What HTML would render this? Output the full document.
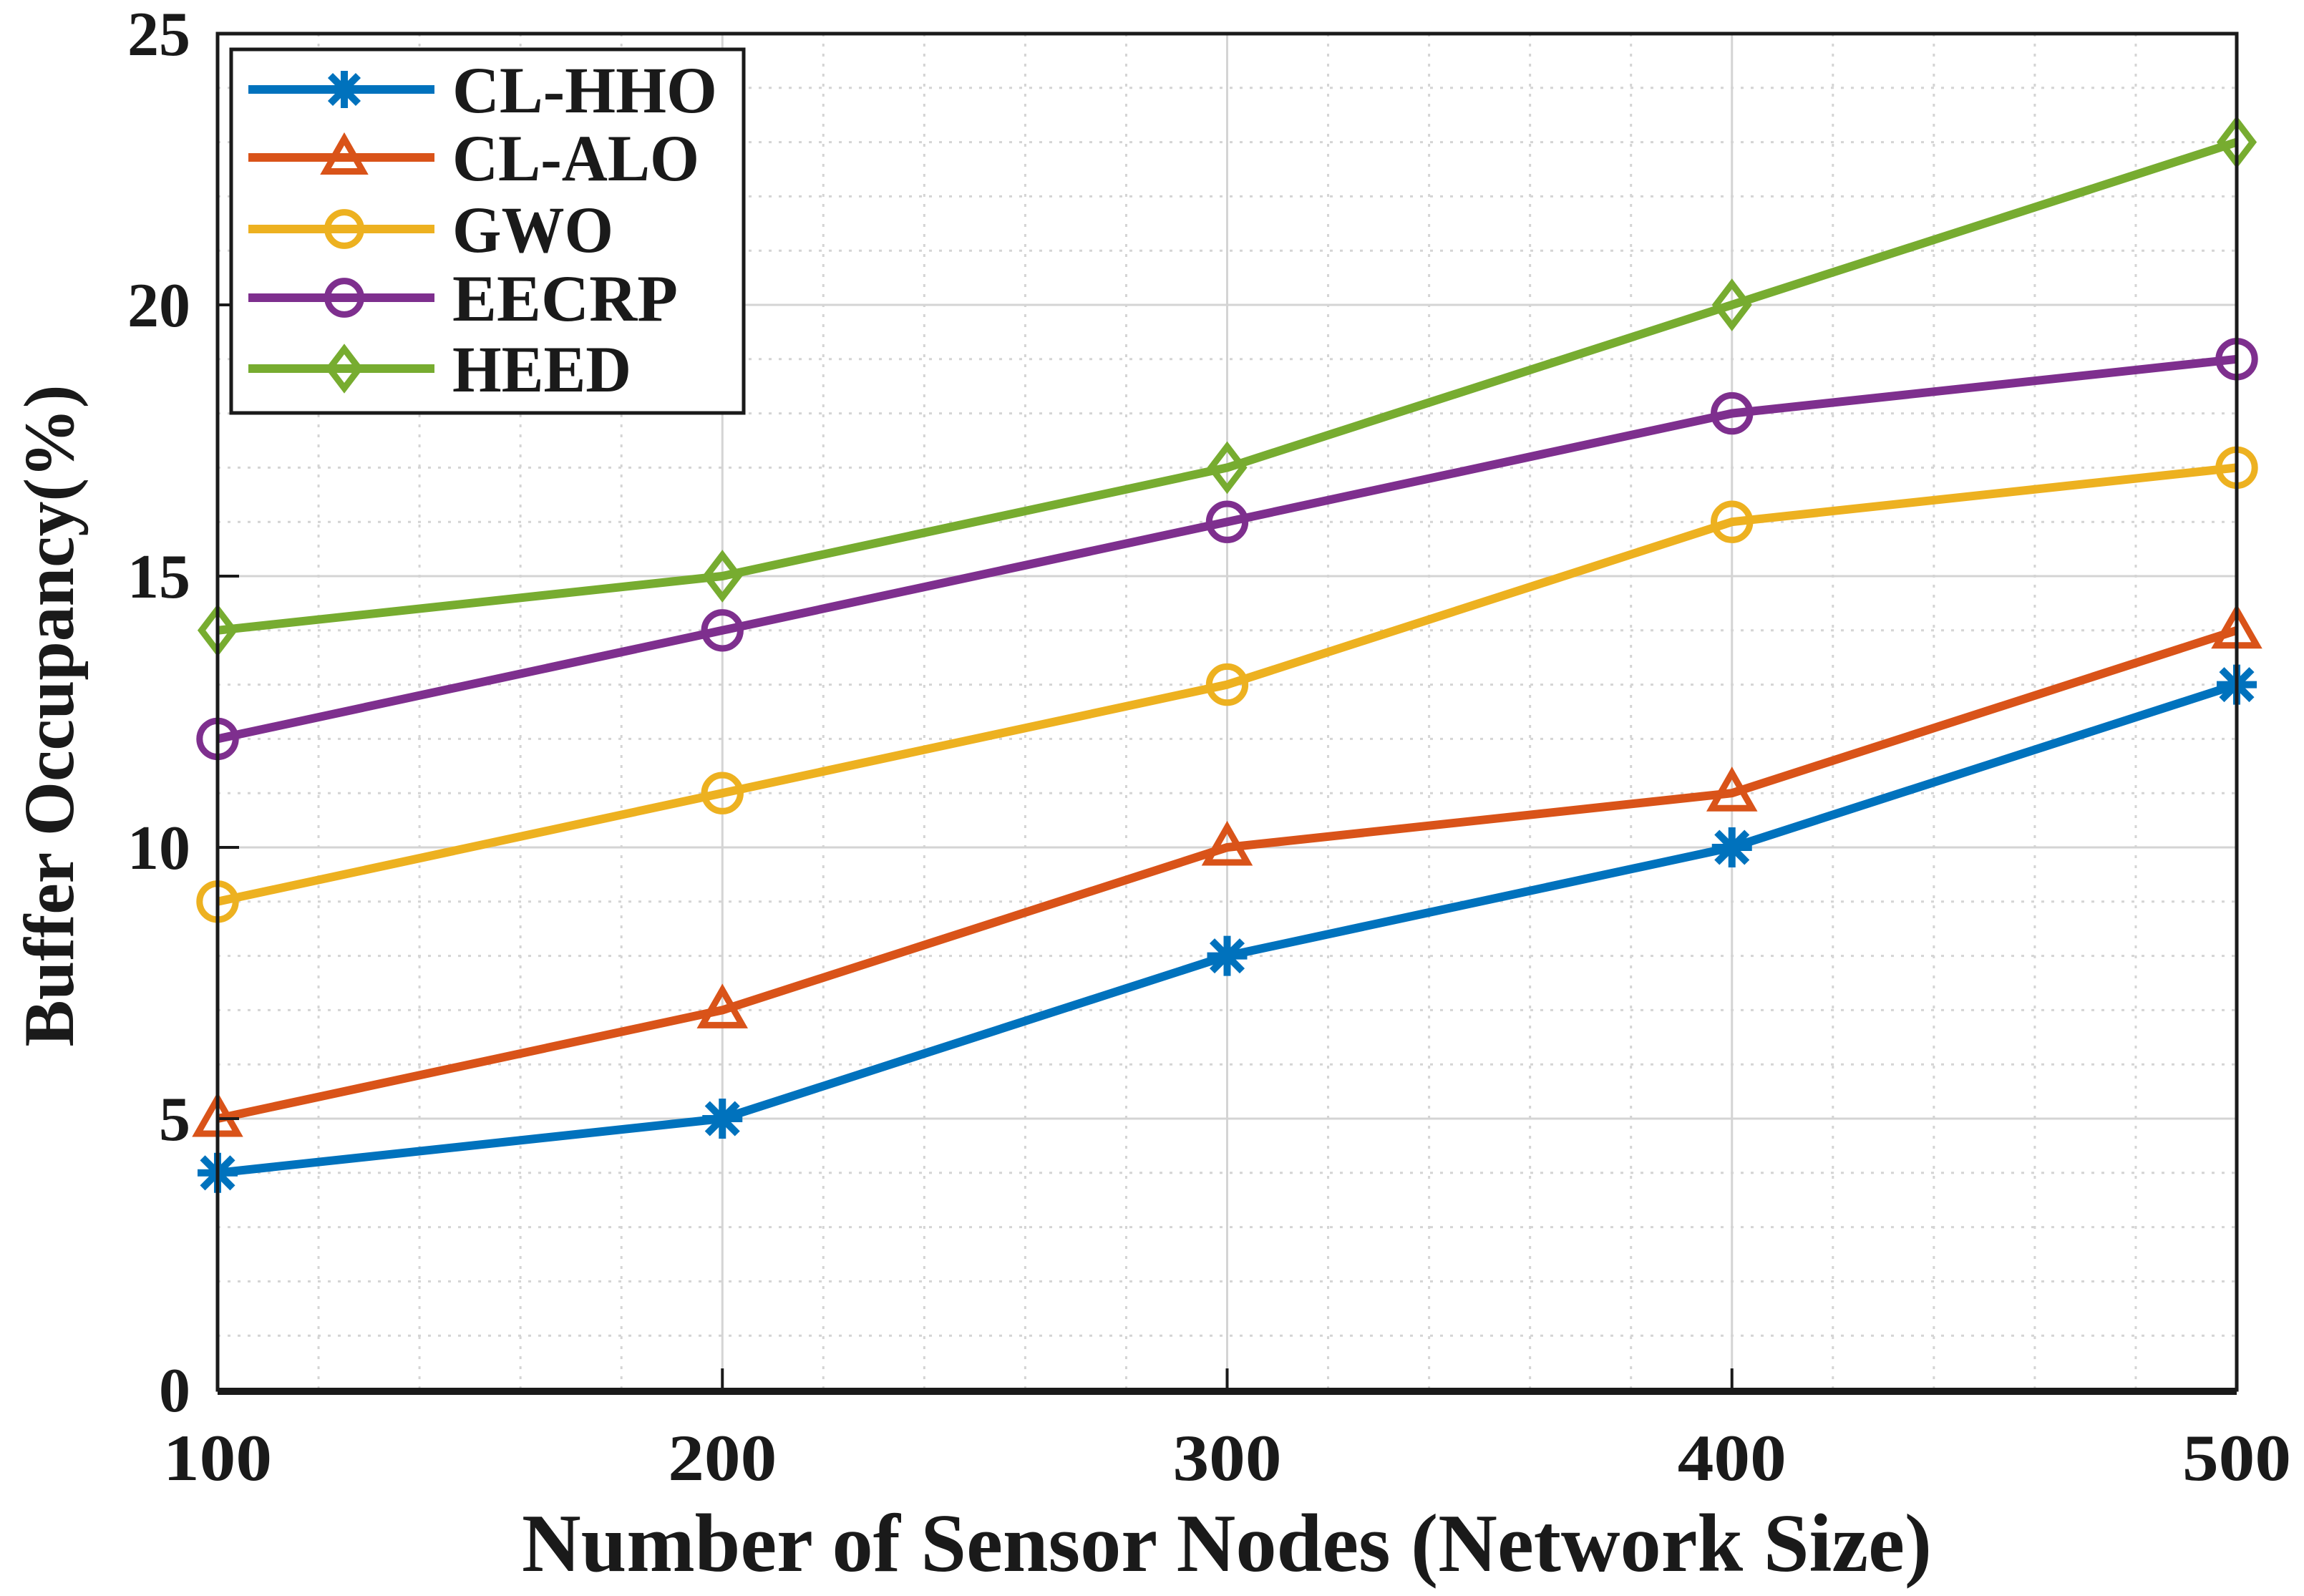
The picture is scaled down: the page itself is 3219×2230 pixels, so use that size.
<!DOCTYPE html>
<html><head><meta charset="utf-8"><style>
html,body{margin:0;padding:0;background:#fff;}
svg{display:block;font-family:"Liberation Serif",serif;font-weight:bold;}
</style></head><body>
<svg id="chart" width="3219" height="2230" viewBox="0 0 3219 2230" xmlns="http://www.w3.org/2000/svg">
<g id="grid"></g>
<g id="series"></g>
<g id="axes"></g>
<g id="legend"></g>
</svg>
<script>
const categories = [100, 200, 300, 400, 500];
const seriesNames = ["CL-HHO", "CL-ALO", "GWO", "EECRP", "HEED"];
const clHho = [4, 5, 8, 10, 13];
const clAlo = [5, 7, 10, 11, 14];
const gwo = [9, 11, 13, 16, 17];
const eecrp = [12, 14, 16, 18, 19];
const heed = [14, 15, 17, 20, 23];
const xTicks = [100, 200, 300, 400, 500];
const yTicks = [0, 5, 10, 15, 20, 25];

const NS = "http://www.w3.org/2000/svg";
const L = 304, R = 3125, T = 47, B = 1942;
function xs(v){ return L + (v - 100) / 400 * (R - L); }
function ys(v){ return B - v / 25 * (B - T); }
function mk(tag, attrs, parent){ const e = document.createElementNS(NS, tag); for (const k in attrs) e.setAttribute(k, attrs[k]); parent.appendChild(e); return e; }

const grid = document.getElementById('grid');
for (let v = 100; v <= 500; v += 20) {
  const major = (v - 100) % 100 === 0;
  const ln = mk('line', {x1: xs(v), x2: xs(v), y1: T, y2: B, stroke: '#d4d4d4', 'stroke-width': 3, 'stroke-dasharray': major ? '' : '4 10'}, grid);
  
  
}
for (let v = 0; v <= 25; v += 1) {
  const major = v % 5 === 0;
  const ln = mk('line', {x1: L, x2: R, y1: ys(v), y2: ys(v), stroke: '#d4d4d4', 'stroke-width': 3, 'stroke-dasharray': major ? '' : '4 10'}, grid);
  
  
}

const colors = ["#0072BD", "#D95319", "#EDB120", "#7E2F8E", "#77AC30"];
const markers = ["star", "triangle", "circle", "circle", "diamond"];
const data = [clHho, clAlo, gwo, eecrp, heed];

function marker(type, cx, cy, color, parent, size){
  const s = size || 28;
  let e;
  if (type === 'circle') e = mk('circle', {cx, cy, r: s * 0.9, fill: 'none', stroke: color, 'stroke-width': 9}, parent);
  else if (type === 'triangle') e = mk('polygon', {points: `${cx},${cy - s} ${cx + s},${cy + s * 0.75} ${cx - s},${cy + s * 0.75}`, fill: 'none', stroke: color, 'stroke-width': 9}, parent);
  else if (type === 'diamond') e = mk('polygon', {points: `${cx},${cy - s * 1.05} ${cx + s * 0.8},${cy} ${cx},${cy + s * 1.05} ${cx - s * 0.8},${cy}`, fill: 'none', stroke: color, 'stroke-width': 9}, parent);
  else {
    e = mk('g', {}, parent);
    mk('line', {x1: cx - s, x2: cx + s, y1: cy, y2: cy, stroke: color, 'stroke-width': 10}, e);
    mk('line', {x1: cx, x2: cx, y1: cy - s, y2: cy + s, stroke: color, 'stroke-width': 10}, e);
    mk('line', {x1: cx - s * 0.75, x2: cx + s * 0.75, y1: cy - s * 0.75, y2: cy + s * 0.75, stroke: color, 'stroke-width': 10}, e);
    mk('line', {x1: cx - s * 0.75, x2: cx + s * 0.75, y1: cy + s * 0.75, y2: cy - s * 0.75, stroke: color, 'stroke-width': 10}, e);
  }
  return e;
}

const sg = document.getElementById('series');
data.forEach((vals, i) => {
  const g = mk('g', {}, sg);
  
  
  const pts = vals.map((v, j) => xs(categories[j]) + ',' + ys(v)).join(' ');
  const pl = mk('polyline', {points: pts, fill: 'none', stroke: colors[i], 'stroke-width': 12, 'stroke-linejoin': 'round'}, g);
  
  
  vals.forEach((v, j) => {
    const m = marker(markers[i], xs(categories[j]), ys(v), colors[i], g);
    
    
  });
});

const ax = document.getElementById('axes');
const box = mk('rect', {x: L, y: T, width: R - L, height: B - T, fill: 'none', stroke: '#1a1a1a', 'stroke-width': 5}, ax);


const bx = mk('line', {x1: L, x2: R, y1: B + 2, y2: B + 2, stroke: '#1a1a1a', 'stroke-width': 10}, ax);


xTicks.forEach(v => {
  const t = mk('line', {x1: xs(v), x2: xs(v), y1: B, y2: B - 30, stroke: '#1a1a1a', 'stroke-width': 4}, ax);
  
  
  const tx = mk('text', {x: xs(v), y: 2068, 'text-anchor': 'middle', 'font-size': 92, fill: '#1a1a1a', textLength: 152, lengthAdjust: 'spacingAndGlyphs'}, ax);
  tx.textContent = v;
  
  
});
yTicks.forEach(v => {
  const t = mk('line', {x1: L, x2: L + 30, y1: ys(v), y2: ys(v), stroke: '#1a1a1a', 'stroke-width': 4}, ax);
  
  
  const tx = mk('text', {x: 266, y: ys(v) + 30, 'text-anchor': 'end', 'font-size': 88, fill: '#1a1a1a'}, ax);
  tx.textContent = v;
  
  
});
const xt = mk('text', {x: 1714, y: 2195, 'text-anchor': 'middle', 'font-size': 116, fill: '#1a1a1a', textLength: 1970, lengthAdjust: 'spacingAndGlyphs'}, ax);
xt.textContent = 'Number of Sensor Nodes (Network Size)';


const yt = mk('text', {x: 0, y: 0, 'text-anchor': 'middle', 'font-size': 100, fill: '#1a1a1a', textLength: 925, lengthAdjust: 'spacingAndGlyphs', transform: 'translate(102,1000) rotate(-90)'}, ax);
yt.textContent = 'Buffer Occupancy(%)';



const lg = document.getElementById('legend');
const lb = mk('rect', {x: 323, y: 69, width: 716, height: 508, fill: '#fff', stroke: '#1a1a1a', 'stroke-width': 5}, lg);


const rowsY = [125, 220, 320, 416, 515];
const labelW = [370, 345, 225, 315, 250];
seriesNames.forEach((n, i) => {
  const g = mk('g', {}, lg);
  
  
  mk('line', {x1: 347, x2: 607, y1: rowsY[i], y2: rowsY[i], stroke: colors[i], 'stroke-width': 12}, g);
  marker(markers[i], 481, rowsY[i], colors[i], g, 26);
  const tx = mk('text', {x: 632, y: rowsY[i] + 32, 'font-size': 92, fill: '#1a1a1a', textLength: labelW[i], lengthAdjust: 'spacingAndGlyphs'}, g);
  tx.textContent = n;
  
  
});
</script>
</body></html>
